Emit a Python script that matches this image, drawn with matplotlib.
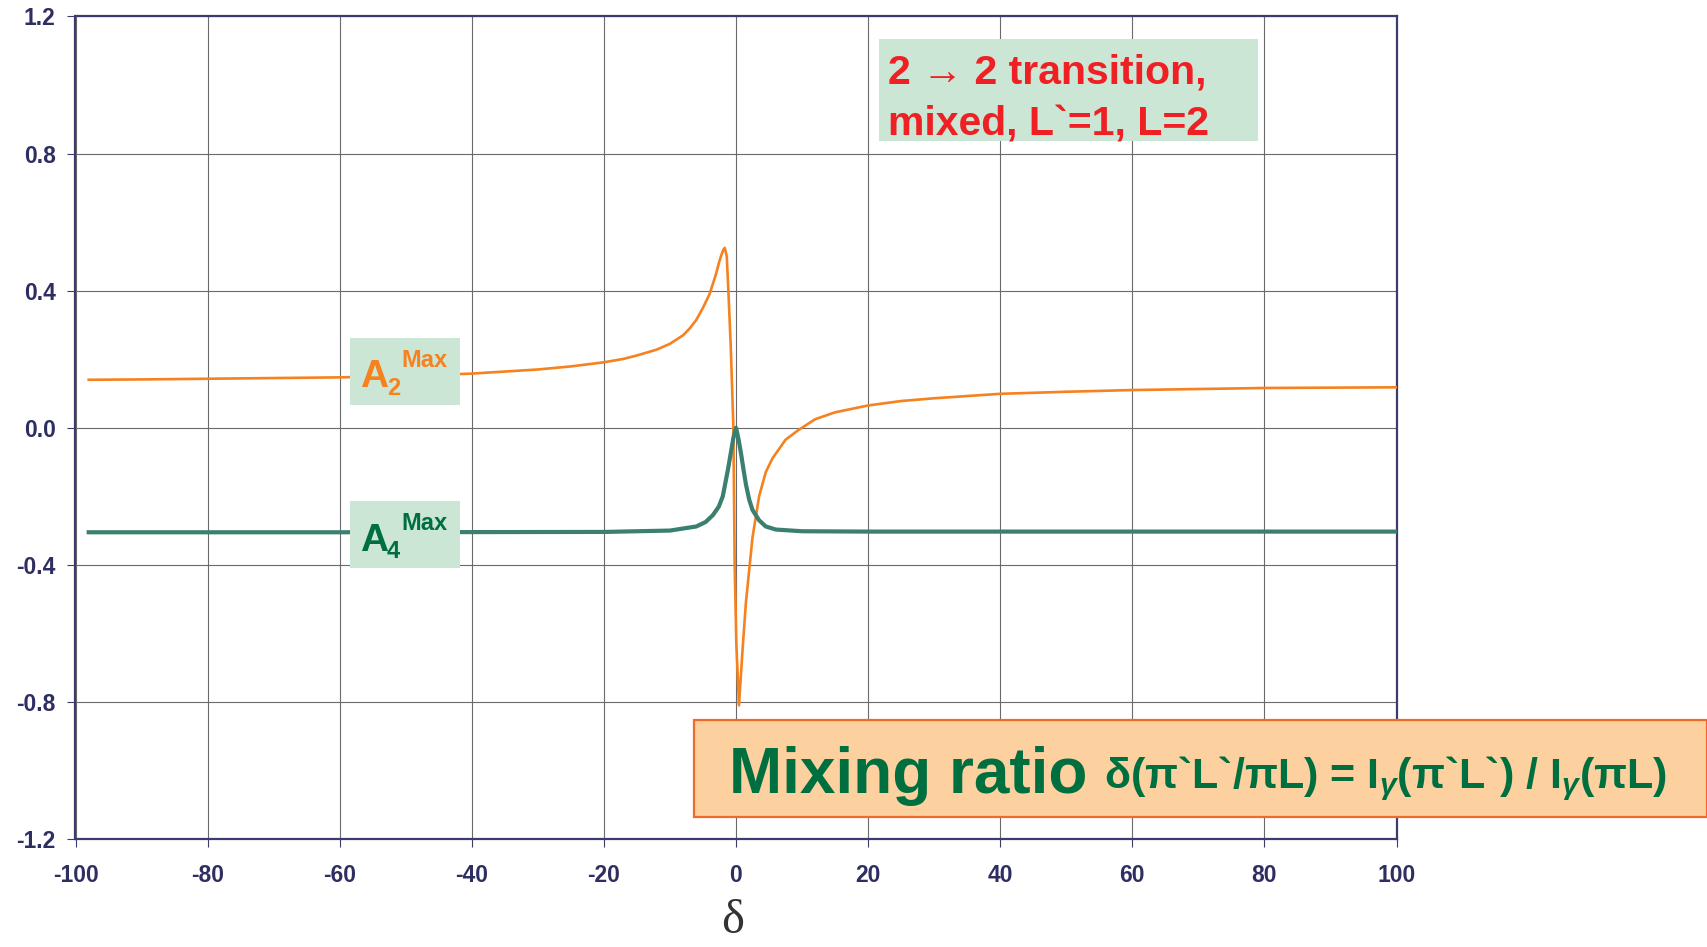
import matplotlib
matplotlib.use("Agg")
import matplotlib.pyplot as plt
from matplotlib.patches import Rectangle

# ---- data ----
a2_delta = [-98, -90, -80, -70, -60, -50, -40, -30, -25, -20, -17, -15, -12, -10, -8, -7, -6,
            -5, -4, -3, -2.6, -2.2, -1.9, -1.7, -1.4, -1.2, -0.8, -0.4, -0.2, 0.05, 0.45,
            0.95, 1.5, 2.5, 3.5, 4.5, 5.5, 7.5, 9.5, 12, 15, 20, 25, 30, 40, 50, 60, 70,
            80, 90, 100]
a2_max = [0.140, 0.141, 0.143, 0.145, 0.147, 0.151, 0.158, 0.170, 0.179, 0.191, 0.201, 0.211,
          0.228, 0.245, 0.270, 0.290, 0.315, 0.350, 0.390, 0.450, 0.480, 0.505, 0.520,
          0.525, 0.500, 0.420, 0.240, 0.005, -0.400, -0.630, -0.810, -0.660, -0.510,
          -0.320, -0.200, -0.130, -0.090, -0.035, -0.006, 0.025, 0.045, 0.065, 0.078,
          0.086, 0.099, 0.105, 0.110, 0.113, 0.116, 0.117, 0.118]

a4_delta = [-98, -60, -20, -10, -6, -4.6, -3.5, -2.6, -2, -1.6, -1.2, -0.8, -0.4, 0,
            0.4, 0.8, 1.2, 1.5, 2, 2.5, 3.5, 4.5, 6, 10, 20, 60, 100]
a4_max = [-0.305, -0.305, -0.304, -0.300, -0.288, -0.275, -0.255, -0.230, -0.200, -0.160,
          -0.120, -0.075, -0.030, 0.000, -0.035, -0.080, -0.130, -0.165, -0.210, -0.240,
          -0.270, -0.288, -0.297, -0.302, -0.303, -0.303, -0.303]

x_ticks = [-100, -80, -60, -40, -20, 0, 20, 40, 60, 80, 100]
y_ticks = [-1.2, -0.8, -0.4, 0.0, 0.4, 0.8, 1.2]

W, H = 1708, 947
plt.rcParams['font.family'] = ['Liberation Sans', 'DejaVu Sans']
plt.rcParams['mathtext.fontset'] = 'custom'
plt.rcParams['mathtext.rm'] = 'Liberation Sans:bold'
plt.rcParams['mathtext.it'] = 'Liberation Sans:bold:italic'
plt.rcParams['mathtext.bf'] = 'Liberation Sans:bold'

fig = plt.figure(figsize=(W / 100, H / 100), dpi=100)
fx = lambda px: px / W
fy = lambda py: 1 - py / H

L, R, T, B = 75.5, 1396.5, 16.5, 839
ax = fig.add_axes([fx(L), fy(B), (R - L) / W, (B - T) / H])

navy = '#3b3b6e'
ax.plot(a2_delta, a2_max, color='#f5821f', lw=1.9, zorder=3)
ax.plot(a4_delta, a4_max, color='#3a7f70', lw=3.0, zorder=3)

ax.set_xlim(-100, 100)
ax.set_ylim(-1.2, 1.2)
ax.set_xticks(x_ticks)
ax.set_yticks(y_ticks)
ax.set_xticklabels([str(v) for v in x_ticks])
ax.set_yticklabels(['%.1f' % v for v in y_ticks])
ax.grid(True, color='#6a6a6a', lw=0.8, zorder=1)
ax.set_axisbelow(True)
for s in ax.spines.values():
    s.set_color(navy)
    s.set_linewidth(1.6)
ax.tick_params(axis='both', direction='out', length=5.8, width=0.8, color=navy,
               labelcolor='#2e2e62', labelsize=16.5)
ax.tick_params(axis='y', pad=8.5)
ax.tick_params(axis='x', pad=12)
for lab in ax.get_xticklabels() + ax.get_yticklabels():
    lab.set_fontweight('bold')

# x-axis label delta
fig.text(fx(733), fy(933), 'δ', family='Liberation Serif', fontsize=35,
         color='#333333', ha='center', va='baseline')

green_box = '#cce6d5'
# A2 label
fig.add_artist(Rectangle((fx(350), fy(405)), 110 / W, 67 / H, transform=fig.transFigure,
                         facecolor=green_box, edgecolor='none', zorder=5))
fig.text(fx(360), fy(387), 'A', fontsize=28, fontweight='bold', color='#f5821f',
         va='baseline', ha='left', zorder=6)
fig.text(fx(387), fy(395), '2', fontsize=17, fontweight='bold', color='#f5821f',
         va='baseline', ha='left', zorder=6)
fig.text(fx(401.5), fy(367), 'Max', fontsize=17, fontweight='bold', color='#f5821f',
         va='baseline', ha='left', zorder=6)

# A4 label
fig.add_artist(Rectangle((fx(350), fy(568)), 110 / W, 66.5 / H, transform=fig.transFigure,
                         facecolor=green_box, edgecolor='none', zorder=5))
fig.text(fx(360), fy(550.5), 'A', fontsize=28, fontweight='bold', color='#006f3f',
         va='baseline', ha='left', zorder=6)
fig.text(fx(387), fy(558), '4', fontsize=17, fontweight='bold', color='#006f3f',
         va='baseline', ha='left', zorder=6)
fig.text(fx(401.5), fy(530.5), 'Max', fontsize=17, fontweight='bold', color='#006f3f',
         va='baseline', ha='left', zorder=6)

# transition box
fig.add_artist(Rectangle((fx(879), fy(141)), (1258 - 879) / W, (141 - 39) / H,
                         transform=fig.transFigure, facecolor=green_box,
                         edgecolor='none', zorder=5))
fig.text(fx(888), fy(83), '2 → 2 transition,', fontsize=29.5, fontweight='bold',
         color='#ee2024', va='baseline', ha='left', zorder=6)
fig.text(fx(888), fy(135), 'mixed, L`=1, L=2', fontsize=29.5, fontweight='bold',
         color='#ee2024', va='baseline', ha='left', zorder=6)

# mixing ratio box
fig.add_artist(Rectangle((fx(694), fy(817)), (1707 - 694) / W, (817 - 720) / H,
                         transform=fig.transFigure, facecolor='#fdd09f',
                         edgecolor='#f06a2a', lw=1.6, zorder=5))
fig.text(fx(729), fy(793), 'Mixing ratio', fontsize=46, fontweight='bold',
         color='#006f3f', va='baseline', ha='left', zorder=6)
fig.text(fx(1104), fy(788), r'δ(π`L`/πL) = I$_{\gamma}$(π`L`) / I$_{\gamma}$(πL)',
         fontsize=31, fontweight='bold', color='#006f3f', va='baseline', ha='left',
         zorder=6)

fig.savefig('out.png', dpi=100)
